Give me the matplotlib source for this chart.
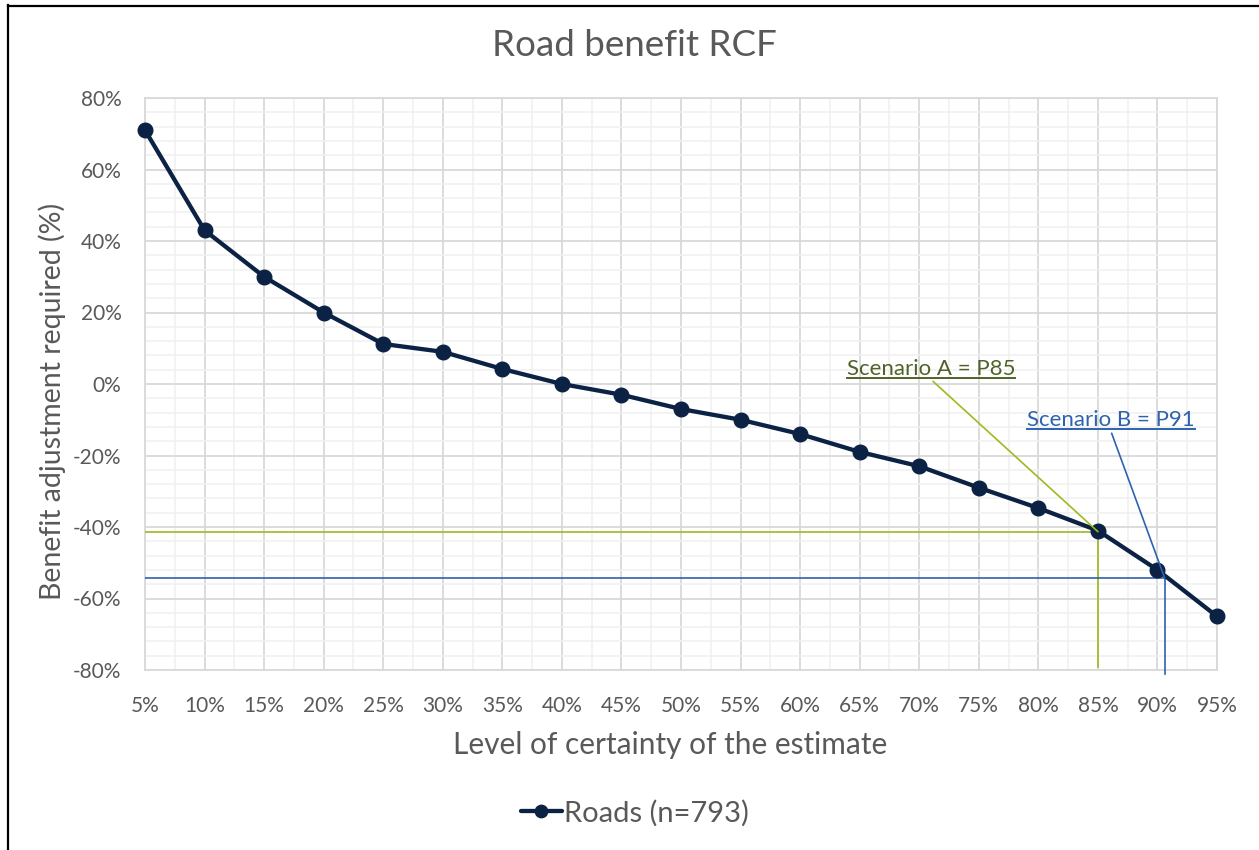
import matplotlib
matplotlib.use("Agg")
import matplotlib.pyplot as plt
from matplotlib.lines import Line2D
from matplotlib.text import Text
from matplotlib.ticker import MultipleLocator, FuncFormatter

# ---- data ----
certainty = [5, 10, 15, 20, 25, 30, 35, 40, 45, 50, 55, 60, 65, 70, 75, 80, 85, 90, 95]
adjustment = [71, 43, 30, 20, 11.2, 9, 4.2, 0, -3, -7, -10, -14, -19, -23, -29, -34.7, -41, -52, -65]
series_label = "Roads (n=793)"

scenario_a_x, scenario_a_y = 85, -41.3
scenario_b_x, scenario_b_y = 90.6, -54.2
scenario_a_text = "Scenario A = P85"
scenario_b_text = "Scenario B = P91"
scenario_a_text_pos = (71.0, 4.3)
scenario_b_text_pos = (86.1, -10.2)

title = "Road benefit RCF"
xlabel = "Level of certainty of the estimate"
ylabel = "Benefit adjustment required (%)"

# ---- style ----
plt.rcParams['font.family'] = ['Lato', 'DejaVu Sans']
W, H = 1259, 850
fig = plt.figure(figsize=(W / 100, H / 100), dpi=100)
fig.patch.set_facecolor('white')

TXT = '#595959'
NAVY = '#0b2244'
GREEN_L = '#9bbb1f'
GREEN_T = '#4f6228'
BLUE = '#2e62ae'

left, right, top, bottom = 145, 1217, 98, 670
ax = fig.add_axes([left / W, 1 - bottom / H, (right - left) / W, (bottom - top) / H])

ax.plot(certainty, adjustment, color=NAVY, lw=3.1, marker='o', ms=10.5,
        markerfacecolor=NAVY, markeredgecolor=NAVY, zorder=5, label=series_label,
        solid_capstyle='round', clip_on=False)

ax.set_xlim(5, 95)
ax.set_ylim(-80, 80)
ax.xaxis.set_major_locator(MultipleLocator(5))
ax.xaxis.set_minor_locator(MultipleLocator(2.5))
ax.yaxis.set_major_locator(MultipleLocator(20))
ax.yaxis.set_minor_locator(MultipleLocator(4))
ax.xaxis.set_major_formatter(FuncFormatter(lambda v, p: f"{v:.0f}%"))
ax.yaxis.set_major_formatter(FuncFormatter(lambda v, p: f"{v:.0f}%"))
ax.grid(which='major', color='#d9d9d9', lw=1.3)
ax.grid(which='minor', color='#f0f0f0', lw=1.1)
ax.set_axisbelow(True)
ax.tick_params(which='both', length=0)
ax.tick_params(axis='y', pad=17, labelsize=15, labelcolor=TXT)
ax.tick_params(axis='x', pad=19, labelsize=15, labelcolor=TXT)
for s in ax.spines.values():
    s.set_color('#d9d9d9')
    s.set_linewidth(1.3)

# scenario lines
ax.plot([5, scenario_a_x], [scenario_a_y, scenario_a_y], color=GREEN_L, lw=1.2, zorder=3)
ax.plot([scenario_a_x, scenario_a_x], [scenario_a_y, -79.3], color=GREEN_L, lw=1.2, zorder=3)
ax.plot([5, scenario_b_x], [scenario_b_y, scenario_b_y], color=BLUE, lw=1.2, zorder=3)
ax.plot([scenario_b_x, scenario_b_x], [scenario_b_y, -81.0], color=BLUE, lw=1.2, zorder=3, clip_on=False)

ta = ax.annotate(scenario_a_text, xy=(scenario_a_x, scenario_a_y), xytext=scenario_a_text_pos,
                 ha='center', va='center', fontsize=16, color=GREEN_T,
                 arrowprops=dict(arrowstyle='-', color=GREEN_L, lw=1.2,
                                 relpos=(0.5, -0.05), shrinkA=0, shrinkB=0), zorder=6)
tb = ax.annotate(scenario_b_text, xy=(scenario_b_x, scenario_b_y), xytext=scenario_b_text_pos,
                 ha='center', va='center', fontsize=16, color=BLUE,
                 arrowprops=dict(arrowstyle='-', color=BLUE, lw=1.2,
                                 relpos=(0.5, -0.05), shrinkA=0, shrinkB=0), zorder=6)

# titles and labels
fig.text(634 / W, 1 - 46 / H, title, ha='center', va='center', fontsize=26.5, color=TXT)
fig.text(670 / W, 1 - 745 / H, xlabel, ha='center', va='center', fontsize=21.5, color=TXT)
fig.text(52 / W, 1 - 401 / H, ylabel, ha='center', va='center', fontsize=20.5, color=TXT,
         rotation=90)

leg = fig.legend(loc='center', bbox_to_anchor=(635 / W, 1 - 813 / H), frameon=False,
                 fontsize=21, labelcolor=TXT, handlelength=1.4, handletextpad=0.1,
                 markerscale=0.85)

# underline scenario texts
fig.canvas.draw()
r = fig.canvas.get_renderer()
for t, c in ((ta, GREEN_T), (tb, BLUE)):
    bb = Text.get_window_extent(t, r)
    y = bb.y0 + 1
    fig.add_artist(Line2D([bb.x0 / W, bb.x1 / W], [y / H, y / H], color=c, lw=1.4,
                          transform=fig.transFigure))

# figure border (left and top)
fig.add_artist(Line2D([7.5 / W, 7.5 / W], [0, 1 - 5 / H], color='black', lw=1.6,
                      transform=fig.transFigure))
fig.add_artist(Line2D([7.5 / W, 1], [1 - 5.5 / H, 1 - 5.5 / H], color='black', lw=1.6,
                      transform=fig.transFigure))

fig.savefig('out.png', dpi=100)
